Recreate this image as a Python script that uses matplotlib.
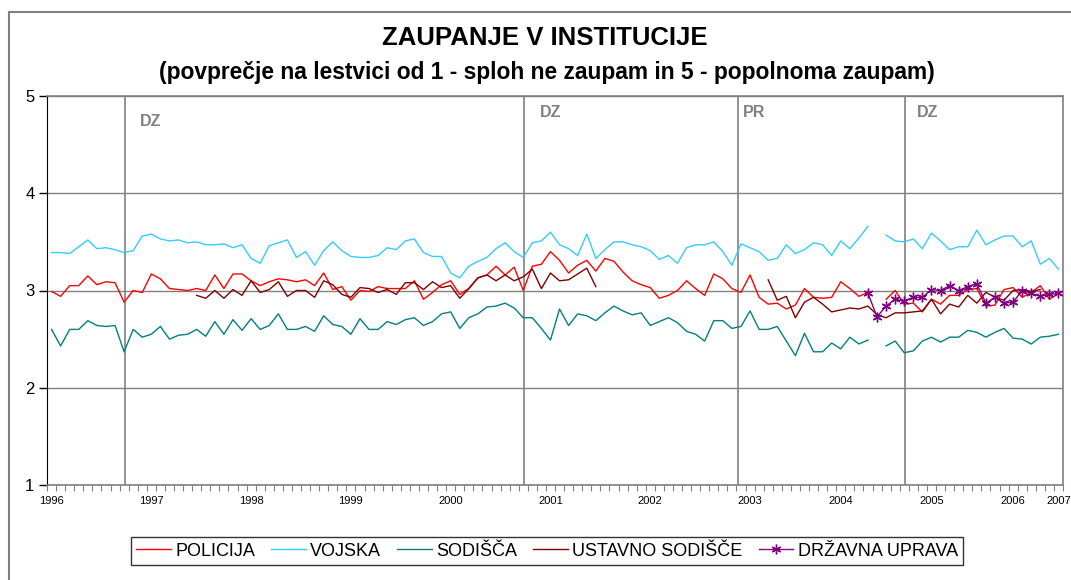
import numpy as np
import matplotlib
matplotlib.use('Agg')
import matplotlib.pyplot as plt
from matplotlib.patches import Rectangle

plt.rcParams['font.family'] = ['Liberation Sans', 'DejaVu Sans']

nan = np.nan

# ankete po vrsti (112 tock), od 1996 do 2007
policija = [2.99, 2.94, 3.05, 3.05, 3.15, 3.06, 3.09, 3.08, 2.88, 3.00,
            2.98, 3.17, 3.12, 3.02, 3.01, 3.00, 3.02, 3.00, 3.16, 3.02,
            3.17, 3.17, 3.10, 3.05, 3.09, 3.12, 3.11, 3.09, 3.11, 3.05,
            3.18, 3.01, 3.04, 2.90, 3.00, 2.99, 3.04, 3.02, 3.02, 3.02,
            3.10, 2.91, 2.98, 3.06, 3.10, 2.96, 3.02, 3.13, 3.16, 3.25,
            3.16, 3.24, 3.00, 3.25, 3.27, 3.40, 3.31, 3.18, 3.26, 3.31,
            3.20, 3.33, 3.30, 3.19, 3.10, 3.06, 3.03, 2.92, 2.95, 3.00,
            3.10, 3.02, 2.95, 3.17, 3.12, 3.02, 2.98, 3.16, 2.93, 2.86,
            2.87, 2.81, 2.85, 3.02, 2.93, 2.92, 2.93, 3.09, 3.02, 2.94,
            2.98, nan, 2.91, 3.00, 2.86, 2.87, 2.78, 2.91, 2.86, 2.95,
            2.95, 3.01, 3.02, 2.84, 2.85, 3.01, 3.03, 2.93, 2.98, 3.05,
            2.91, 2.97]

vojska = [3.39, 3.39, 3.38, 3.45, 3.52, 3.43, 3.44, 3.42, 3.39, 3.41,
          3.56, 3.58, 3.53, 3.51, 3.52, 3.49, 3.50, 3.47, 3.47, 3.48,
          3.44, 3.47, 3.33, 3.28, 3.46, 3.49, 3.52, 3.34, 3.40, 3.26,
          3.41, 3.50, 3.41, 3.35, 3.34, 3.34, 3.36, 3.44, 3.42, 3.51,
          3.53, 3.39, 3.35, 3.35, 3.18, 3.13, 3.25, 3.30, 3.34, 3.43,
          3.49, 3.40, 3.34, 3.49, 3.51, 3.60, 3.47, 3.43, 3.36, 3.58,
          3.33, 3.42, 3.50, 3.50, 3.47, 3.45, 3.41, 3.32, 3.36, 3.28,
          3.44, 3.47, 3.47, 3.50, 3.40, 3.26, 3.48, 3.44, 3.40, 3.31,
          3.33, 3.47, 3.38, 3.42, 3.49, 3.47, 3.36, 3.51, 3.43, 3.54,
          3.66, nan, 3.57, 3.51, 3.50, 3.53, 3.43, 3.59, 3.51, 3.42,
          3.45, 3.45, 3.62, 3.47, 3.52, 3.56, 3.56, 3.45, 3.51, 3.27,
          3.33, 3.22]

sodisca = [2.60, 2.43, 2.60, 2.60, 2.69, 2.64, 2.63, 2.64, 2.37, 2.60,
           2.52, 2.55, 2.63, 2.50, 2.54, 2.55, 2.60, 2.53, 2.68, 2.55,
           2.70, 2.59, 2.71, 2.60, 2.64, 2.76, 2.60, 2.60, 2.63, 2.58,
           2.74, 2.65, 2.63, 2.55, 2.71, 2.60, 2.60, 2.68, 2.65, 2.70,
           2.72, 2.64, 2.68, 2.76, 2.78, 2.61, 2.72, 2.76, 2.83, 2.84,
           2.87, 2.82, 2.72, 2.72, 2.61, 2.49, 2.81, 2.64, 2.76, 2.74,
           2.69, 2.77, 2.84, 2.79, 2.75, 2.77, 2.64, 2.68, 2.72, 2.67,
           2.58, 2.55, 2.48, 2.69, 2.69, 2.61, 2.63, 2.79, 2.60, 2.60,
           2.63, 2.48, 2.33, 2.56, 2.37, 2.37, 2.46, 2.40, 2.52, 2.45,
           2.49, nan, 2.43, 2.48, 2.36, 2.38, 2.48, 2.52, 2.47, 2.52,
           2.52, 2.59, 2.57, 2.52, 2.57, 2.61, 2.51, 2.50, 2.45, 2.52,
           2.53, 2.55]

ustavno = [nan] * 16 + [
           2.95, 2.92, 3.00, 2.92, 3.01, 2.95, 3.10, 2.98, 3.01, 3.09,
           2.94, 3.00, 3.00, 2.93, 3.10, 3.06, 2.96, 2.93, 3.03, 3.02,
           2.98, 3.01, 2.96, 3.08, 3.08, 3.01, 3.09, 3.03, 3.05, 2.92,
           3.02, 3.13, 3.16, 3.10, 3.16, 3.10, 3.14, 3.22, 3.02, 3.18,
           3.10, 3.11, 3.17, 3.23, 3.04] + [nan] * 18 + [
           3.11, 2.90, 2.94, 2.72, 2.88, 2.93, 2.86, 2.78, 2.80, 2.82,
           2.81, 2.84, 2.75, 2.72, 2.77, 2.77, 2.78, 2.79, 2.91, 2.76,
           2.86, 2.83, 2.95, 2.87, 2.98, 2.93, 2.90, 3.00, 3.01, 2.99,
           3.01, nan, nan]

uprava = [nan] * 90 + [
          2.97, 2.73, 2.84, 2.91, 2.89, 2.93, 2.93, 3.01, 3.00, 3.05,
          3.00, 3.04, 3.07, 2.87, 2.93, 2.87, 2.88, 3.00, 2.97, 2.94,
          2.96, 2.97]

leta_pos = [0, 11, 22, 33, 44, 55, 66, 77, 87, 97, 106, 111]
leta = ['1996', '1997', '1998', '1999', '2000', '2001', '2002', '2003',
        '2004', '2005', '2006', '2007']

# volitve: DZ = drzavnozborske, PR = predsedniske
volitve_pos = [8.1, 52.07, 75.64, 94.09]
volitve = ['DZ', 'DZ', 'PR', 'DZ']
volitve_txt_x = [9.75, 53.85, 76.23, 95.41]
volitve_txt_y = [4.74, 4.83, 4.83, 4.83]

n = len(policija)
x = np.arange(n)

fig = plt.figure(figsize=(10.71, 5.8), dpi=100)
ax = fig.add_axes([47/1071, 1-485/580, (1063-47)/1071, (485-96)/580])

siva = '#808080'

for p in volitve_pos:
    ax.axvline(p, color=siva, lw=1.2, zorder=1)
for tx, ty, t in zip(volitve_txt_x, volitve_txt_y, volitve):
    ax.text(tx, ty, t, color=siva, fontsize=11.5, fontweight='bold', va='center', ha='left')

ax.plot(x, policija, color='#FF0000', lw=1.0, label='POLICIJA', zorder=3)
ax.plot(x, vojska, color='#33CCFF', lw=1.0, label='VOJSKA', zorder=3)
ax.plot(x, sodisca, color='#008080', lw=1.0, label='SODIŠČA', zorder=3)
ax.plot(x, ustavno, color='#800000', lw=1.0, label='USTAVNO SODIŠČE', zorder=3)
ax.plot(x, uprava, color='#800080', lw=1.0, marker=(6, 2, 0), markersize=7,
        markeredgewidth=1.0, label='DRŽAVNA UPRAVA', zorder=4)

ax.set_xlim(-0.5, n - 0.5)
ax.set_ylim(1, 5)
ax.set_yticks([1, 2, 3, 4, 5])
ax.yaxis.grid(True, color=siva, lw=1.0)
ax.set_axisbelow(True)
ax.tick_params(axis='y', labelsize=12, length=6, width=1, pad=3)

# kratke crtice med kategorijami, letnice kot minor oznake
ax.set_xticks(np.arange(n + 1) - 0.5)
ax.set_xticklabels([])
ax.tick_params(axis='x', which='major', length=4, width=0.8, color=siva)
ax.set_xticks(leta_pos, leta, minor=True)
ax.tick_params(axis='x', which='minor', length=0, labelsize=8, pad=8)

ax.spines['left'].set_color('black')
for s in ['top', 'right', 'bottom']:
    ax.spines[s].set_color(siva)
    ax.spines[s].set_linewidth(1.2)

fig.text(545/1071, 1-38/580, 'ZAUPANJE V INSTITUCIJE', ha='center', va='center',
         fontsize=18.5, fontweight='bold')
fig.text(547/1071, 1-72/580,
         '(povprečje na lestvici od 1 - sploh ne zaupam in 5 - popolnoma zaupam)',
         ha='center', va='center', fontsize=16.4, fontweight='bold')

leg = fig.legend(loc='center', bbox_to_anchor=(547/1071, 1-551/580), ncol=5,
                 fontsize=13, frameon=True, fancybox=False, edgecolor='black',
                 handlelength=1.9, handletextpad=0.25, columnspacing=0.9,
                 borderpad=0.3)
leg.get_frame().set_linewidth(1.0)

# okvir grafikona
fig.patches.append(Rectangle((9/1071, -0.1), 1.2, 1 - 12/580 + 0.1,
                             transform=fig.transFigure, fill=False,
                             edgecolor=siva, lw=1.5))

plt.savefig('out.png', dpi=100)
plt.close()
